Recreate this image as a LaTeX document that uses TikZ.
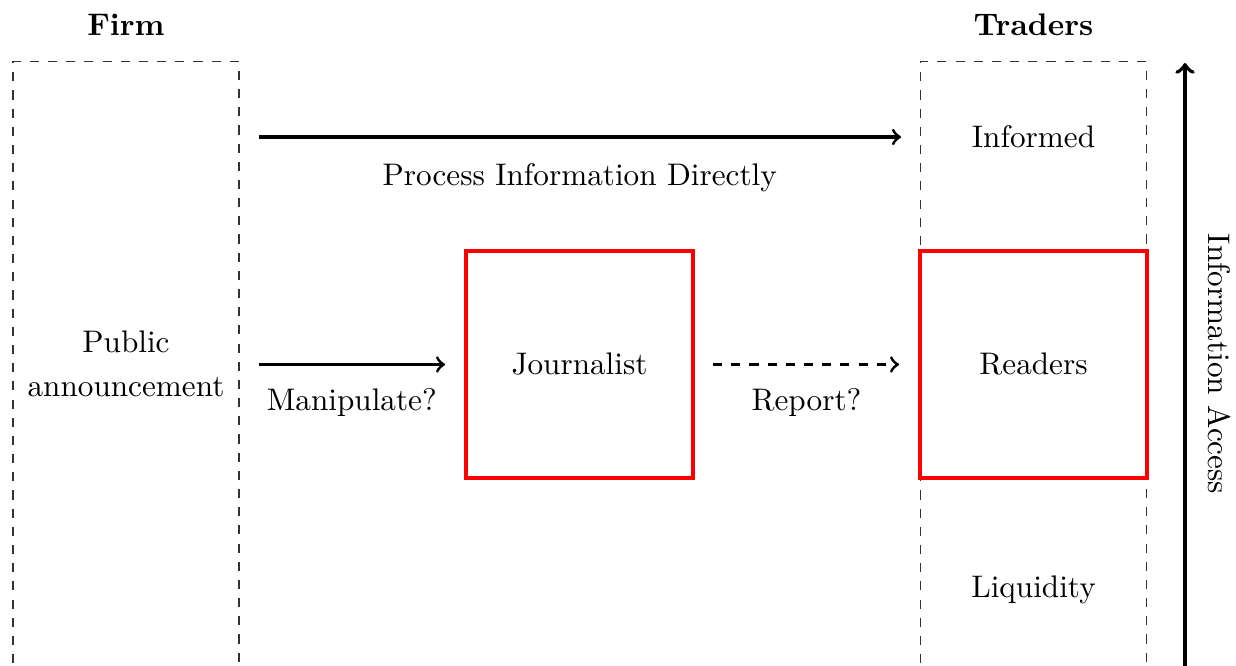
\documentclass[tikz,border=0pt]{standalone}
\usetikzlibrary{positioning}
\begin{document}
\begin{tikzpicture}[x=1.16cm,y=1.16cm,
		every node/.style={font=\fontsize{10.3}{14.5}\selectfont},
		groupbox/.style={draw, dashed, black!80, minimum width=2.62cm, minimum height=7.08cm},
		agentbox/.style={draw=red, line width=1.4pt, minimum width=2.63cm, minimum height=2.63cm},
		flow/.style={->, line width=1pt, shorten <=0.23cm, shorten >=0.22cm}]
		\useasboundingbox (0,0) rectangle (12.36,-6.66);
		%Headings above the two groups
		\node [font=\fontsize{10.3}{14.5}\selectfont\bfseries] (firmhead) at (1.26,-0.25) {Firm};
		\node [font=\fontsize{10.3}{14.5}\selectfont\bfseries] (tradershead) at (10.335,-0.25) {Traders};
		%Dashed outer boxes (run off the bottom of the page)
		\node [groupbox] (firm) at (1.26,-3.67) {};
		\node [groupbox] (traders) at (10.335,-3.67) {};
		\node [align=center] (announce) at (1.26,-3.64) {Public\\announcement};
		%Trader types
		\node (informed) at (10.335,-1.37) {Informed};
		\node [agentbox] (readers) at (10.335,-3.645) {Readers};
		\node (liquidity) at (10.335,-5.9) {Liquidity};
		%The journalist in the middle
		\node [agentbox] (journalist) at (5.795,-3.645) {Journalist};
		%Arrows between the boxes
		\draw [flow] (firm.east |- informed) -- node [below=5pt] (direct) {Process Information Directly} (traders.west |- informed);
		\draw [flow] (firm.east |- journalist) -- node [below=4pt] (manip) {Manipulate?} (journalist);
		\draw [flow, dashed, shorten <=0.21cm] (journalist) -- node [below=4pt] (report) {Report?} (readers);
		%Information access axis
		\coordinate (accessBottom) at (11.85,-6.66);
		\coordinate (accessTop) at (11.85,-0.63);
		\draw [->, line width=1.3pt] (accessBottom) -- (accessTop);
		\node [rotate=-90] (access) at (12.19,-3.64) {Information Access};
\end{tikzpicture}
\end{document}
